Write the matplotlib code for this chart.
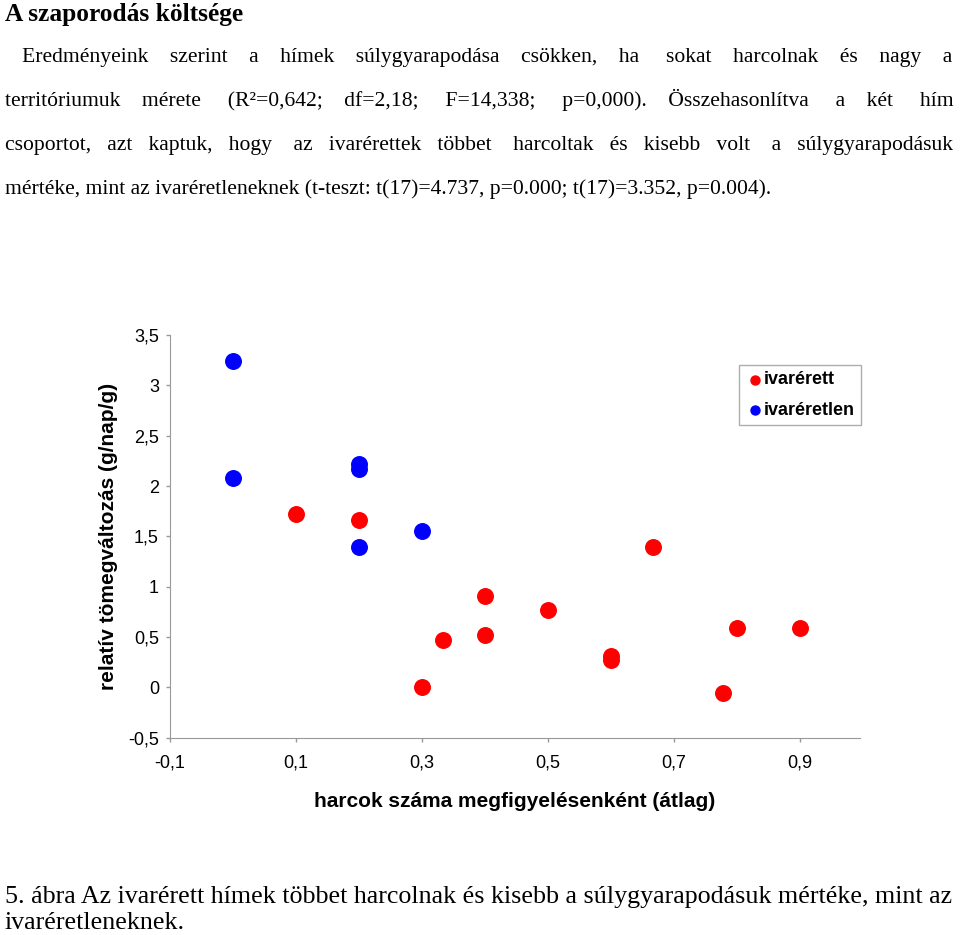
import matplotlib
matplotlib.use("Agg")
import matplotlib.pyplot as plt

# fights per observation (mean) vs. relative weight change (g/day/g)
mature_x = [0.1, 0.2, 0.3, 0.333, 0.4, 0.4, 0.5, 0.6, 0.6, 0.667, 0.778, 0.8, 0.9]
mature_y = [1.72, 1.66, 0.0, 0.47, 0.91, 0.52, 0.77, 0.31, 0.27, 1.39, -0.06, 0.59, 0.59]
immature_x = [0.0, 0.0, 0.2, 0.2, 0.2, 0.3]
immature_y = [3.24, 2.08, 2.22, 2.17, 1.39, 1.55]

xticks = [-0.1, 0.1, 0.3, 0.5, 0.7, 0.9]
yticks = [-0.5, 0, 0.5, 1, 1.5, 2, 2.5, 3, 3.5]

title = "A szaporodás költsége"
para = [
    "Eredményeink szerint a hímek súlygyarapodása csökken, ha sokat harcolnak és nagy a",
    "territóriumuk mérete (R²=0,642; df=2,18; F=14,338; p=0,000). Összehasonlítva a két hím",
    "csoportot, azt kaptuk, hogy az ivarérettek többet harcoltak és kisebb volt a súlygyarapodásuk",
    "mértéke, mint az ivaréretleneknek (t-teszt: t(17)=4.737, p=0.000; t(17)=3.352, p=0.004).",
]
caption = [
    "5. ábra Az ivarérett hímek többet harcolnak és kisebb a súlygyarapodásuk mértéke, mint az",
    "ivaréretleneknek.",
]

W, H = 960, 935
fig = plt.figure(figsize=(W / 100, H / 100), dpi=100)
renderer = fig.canvas.get_renderer()
serif = "Liberation Serif"
sans = "Liberation Sans"


def width(s, **kw):
    t = fig.text(0, 0, s, **kw)
    w = t.get_window_extent(renderer).width
    t.remove()
    return w


def fit_size(s, target, **kw):
    # font size that gives the line its width in the reference
    return 10 * target / width(s, fontsize=10, **kw)


def put_line(text, x0, y, x1, justify, **kw):
    words = text.split(" ")
    if justify and len(words) > 1:
        sp = width("a a", **kw) - width("aa", **kw)
        extra = (x1 - x0 - width(text, **kw)) / sp
        n = len(words) - 1
        out = words[0]
        done = 0
        for i in range(1, n + 1):
            k = int(extra * i / n) - done
            done += k
            out += " " * (1 + k) + words[i]
        text = out
    fig.text(x0 / W, 1 - y / H, text, va="baseline", **kw)


fig.text(5 / W, 1 - 21 / H, title, family=serif, va="baseline", fontweight="bold",
         fontsize=fit_size(title, 238, family=serif, fontweight="bold"))

psize = fit_size(para[3], 766, family=serif)
starts = [22, 5, 5, 5]
base = [62, 106, 150, 194]
for i, line in enumerate(para):
    put_line(line, starts[i], base[i], 956, i < 3, family=serif, fontsize=psize)

csize = fit_size(caption[0], 948, family=serif)
put_line(caption[0], 5, 903, 955, True, family=serif, fontsize=csize)
put_line(caption[1], 5, 929, 955, False, family=serif, fontsize=csize)

ax = fig.add_axes([170 / W, 1 - 737.7 / H, 690 / W, (737.7 - 335) / H])
ax.scatter(mature_x, mature_y, s=125, color="#ff0000", label="ivarérett", zorder=3, clip_on=False)
ax.scatter(immature_x, immature_y, s=125, color="#0000ff", label="ivaréretlen", zorder=3, clip_on=False)

ax.set_xlim(-0.1, 0.996)
ax.set_ylim(-0.5, 3.5)
ax.set_xticks(xticks)
ax.set_xticklabels([f"{t:g}".replace(".", ",") for t in xticks], family=sans, fontsize=13)
ax.set_yticks(yticks)
ax.set_yticklabels([f"{t:g}".replace(".", ",") for t in yticks], family=sans, fontsize=13)
for s in ["top", "right"]:
    ax.spines[s].set_visible(False)
for s in ["left", "bottom"]:
    ax.spines[s].set_color("#999999")
ax.tick_params(colors="#999999", labelcolor="black", length=3, width=1)
ax.tick_params(axis="x", pad=9)
ax.tick_params(axis="y", pad=5)

ax.set_xlabel("harcok száma megfigyelésenként (átlag)", family=sans, fontsize=15,
              fontweight="bold", labelpad=15)
ax.set_ylabel("relatív tömegváltozás (g/nap/g)", family=sans, fontsize=15,
              fontweight="bold", labelpad=7)

leg = ax.legend(loc="upper right", bbox_to_anchor=(861 / W, 1 - 365 / H),
                bbox_transform=fig.transFigure, borderaxespad=0, frameon=True, fancybox=False,
                markerscale=0.58, handletextpad=0.0, labelspacing=0.75, borderpad=0.35,
                handlelength=1.0, prop={"family": sans, "size": 13, "weight": "bold"})
leg.get_frame().set_edgecolor("#999999")
leg.get_frame().set_linewidth(1)

fig.savefig("out.png", dpi=100)
